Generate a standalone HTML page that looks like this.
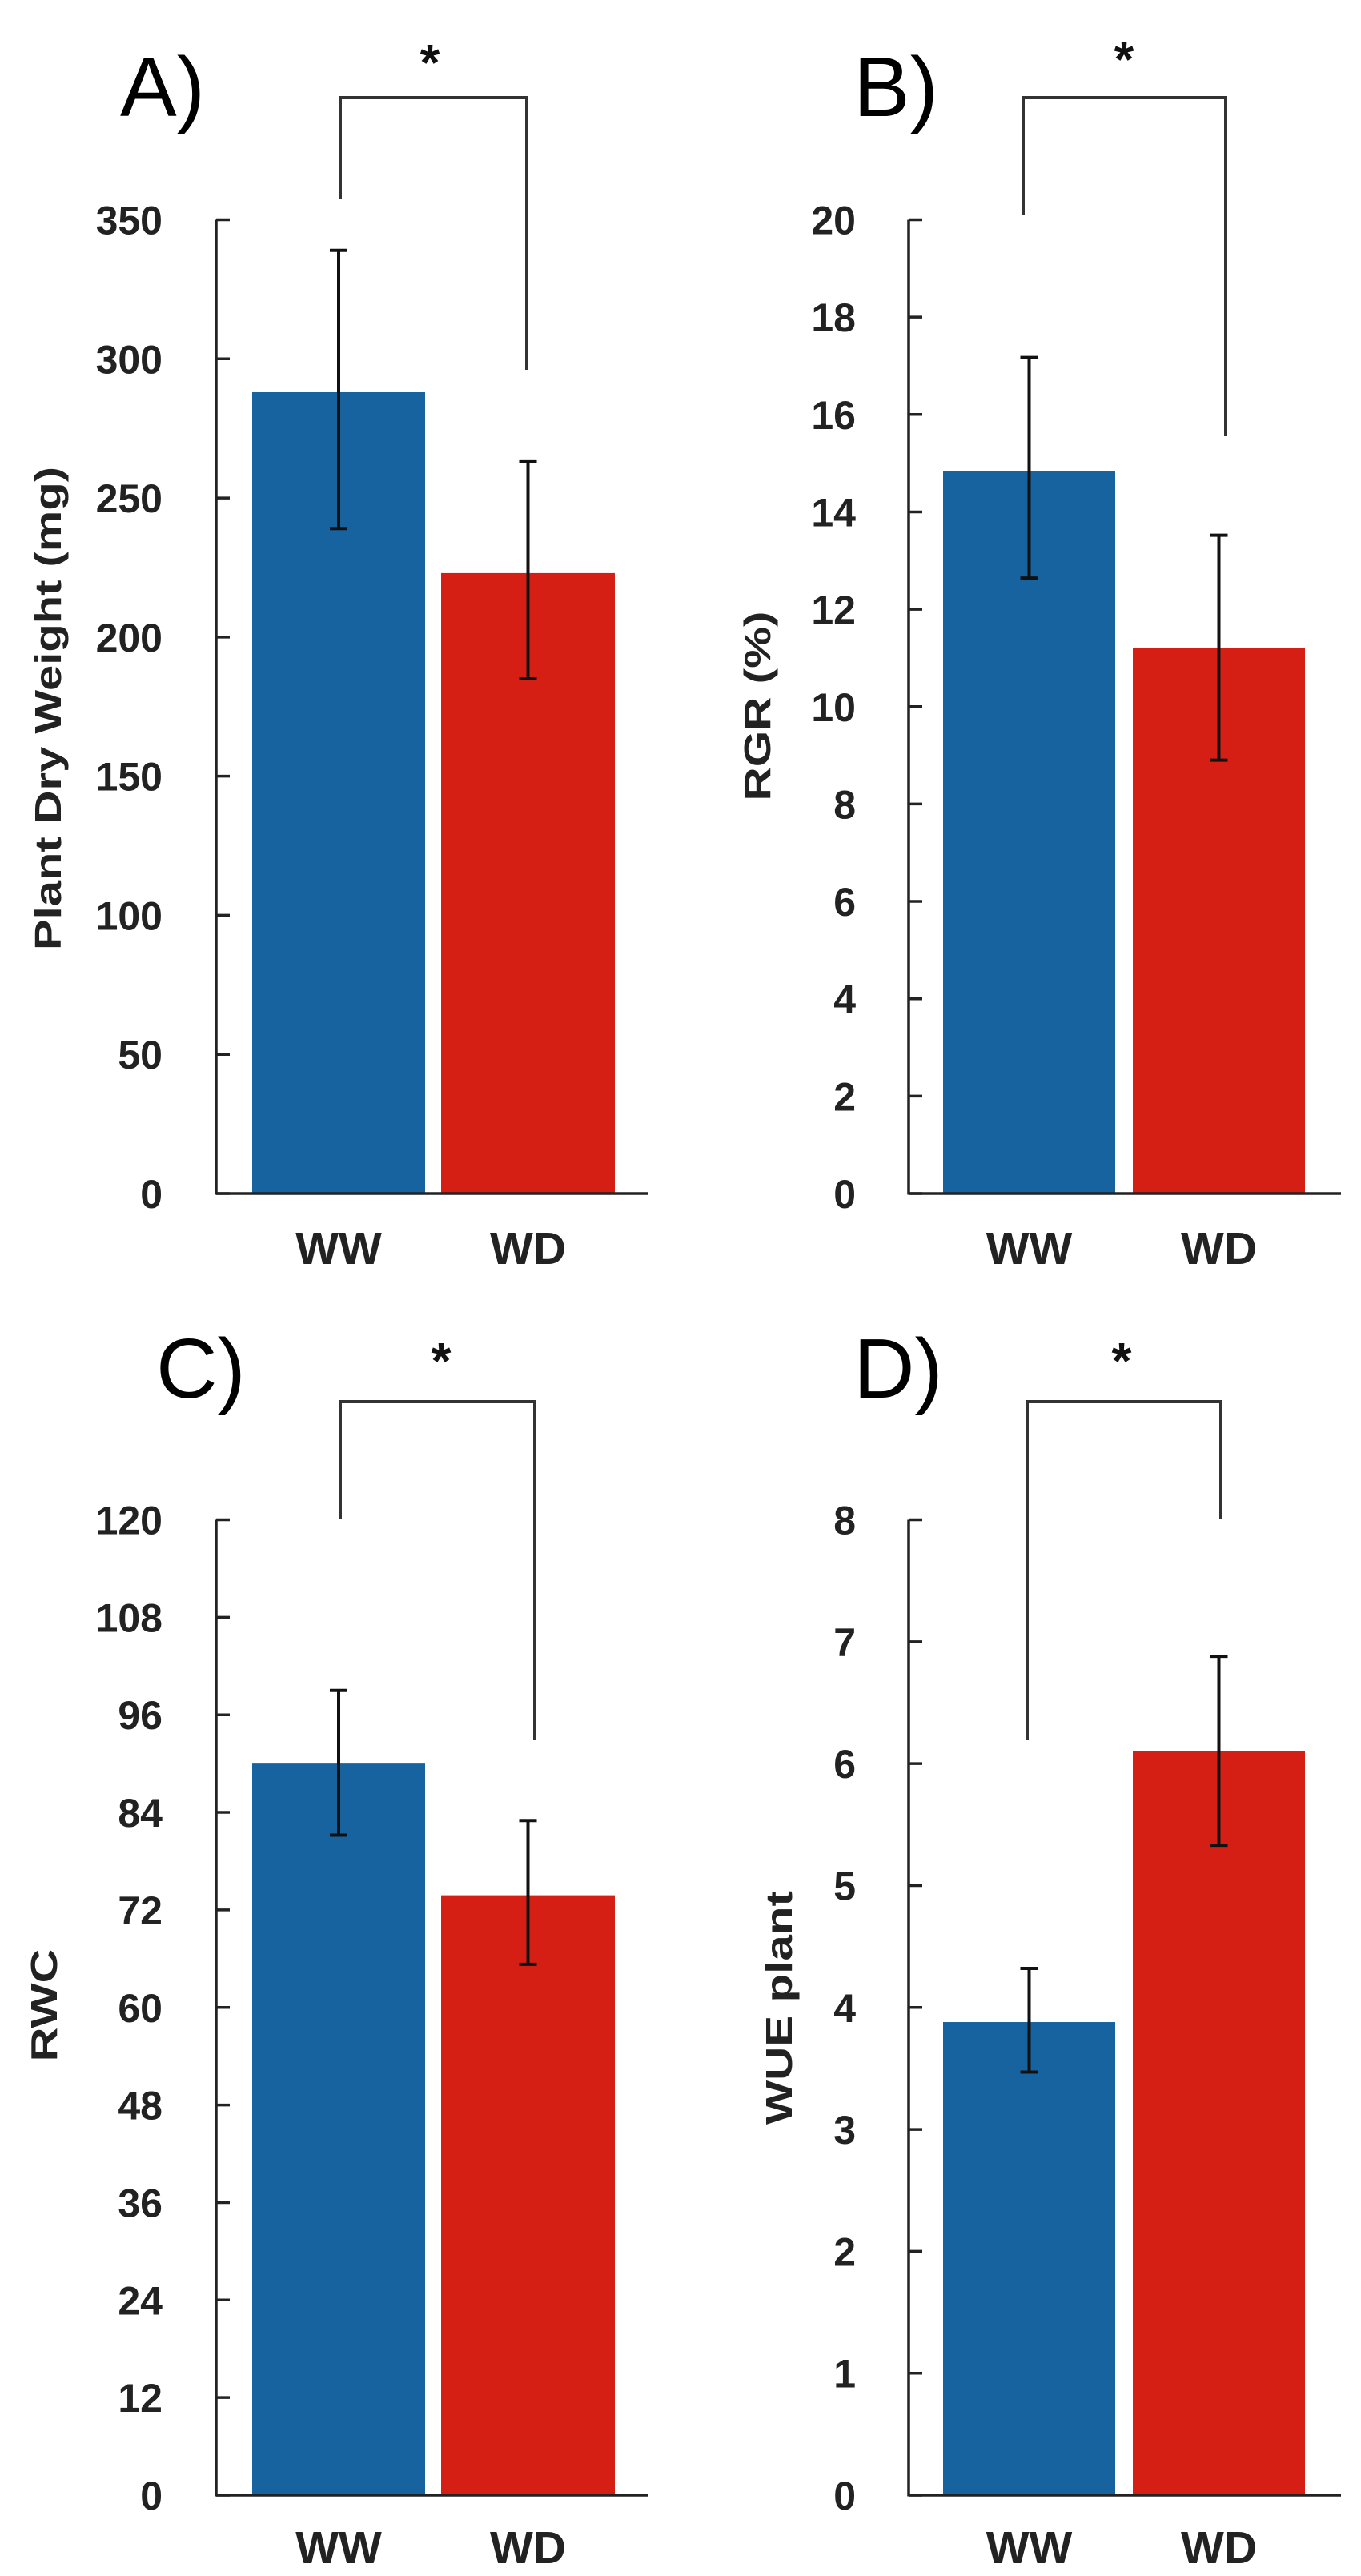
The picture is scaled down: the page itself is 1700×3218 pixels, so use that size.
<!DOCTYPE html>
<html><head><meta charset="utf-8"><style>html,body{margin:0;padding:0;background:#fff}svg{display:block}</style></head>
<body>
<svg id="fig" width="1700" height="3218" viewBox="0 0 1700 3218" xmlns="http://www.w3.org/2000/svg" font-family="'Liberation Sans', sans-serif"></svg>
<script>
const categories = ["WW", "WD"];
const valsA = [288, 223], errHiA = [339, 263], errLoA = [239, 185];
const ticksA = [0, 50, 100, 150, 200, 250, 300, 350];
const valsB = [14.84, 11.2], errHiB = [17.17, 13.52], errLoB = [12.64, 8.9];
const ticksB = [0, 2, 4, 6, 8, 10, 12, 14, 16, 18, 20];
const valsC = [90, 73.8], errHiC = [99, 83], errLoC = [81.2, 65.3];
const ticksC = [0, 12, 24, 36, 48, 60, 72, 84, 96, 108, 120];
const valsD = [3.88, 6.1], errHiD = [4.32, 6.88], errLoD = [3.47, 5.33];
const ticksD = [0, 1, 2, 3, 4, 5, 6, 7, 8];
const labels = ["A)", "B)", "C)", "D)"];
const yTitles = ["Plant Dry Weight (mg)", "RGR (%)", "RWC", "WUE plant"];

const svg = document.getElementById('fig');
const NS = 'http://www.w3.org/2000/svg';
function mk(tag, attrs, parent) {
  const e = document.createElementNS(NS, tag);
  for (const k in attrs) e.setAttribute(k, attrs[k]);
  (parent || svg).appendChild(e);
  return e;
}
const panels = [
  {id:'a', vals:valsA, hi:errHiA, lo:errLoA, ticks:ticksA, ax:270, top:274.5, zero:1491, bars:[[315,531],[551,768]], lblX:195-45, lblY:145, titleX:60, titleY:885, titleLen:604, bl:[425,248], br:[658,462], bt:122, star:[537,100], catY:1579, tlRight:203},
  {id:'b', vals:valsB, hi:errHiB, lo:errLoB, ticks:ticksB, ax:1135, top:274.5, zero:1491, bars:[[1178,1393],[1415,1630]], lblX:1066, lblY:145, titleX:946, titleY:882, titleLen:237, bl:[1278,268], br:[1531,545], bt:122, star:[1404,96], catY:1579, tlRight:1069},
  {id:'c', vals:valsC, hi:errHiC, lo:errLoC, ticks:ticksC, ax:270, top:1898.5, zero:3117, bars:[[315,531],[551,768]], lblX:195, lblY:1746, titleX:55, titleY:2505, titleLen:141, bl:[425,1897.5], br:[668,2174], bt:1751, star:[551,1722], catY:3202, tlRight:203},
  {id:'d', vals:valsD, hi:errHiD, lo:errLoD, ticks:ticksD, ax:1135, top:1898.5, zero:3117, bars:[[1178,1393],[1415,1630]], lblX:1066, lblY:1746, titleX:973, titleY:2508, titleLen:292, bl:[1283,2174], br:[1525,1897.5], bt:1751, star:[1401,1722], catY:3202, tlRight:1069}
];
const colors = ['#1763a0', '#d61f14'];
panels.forEach((p, pi) => {
  const g = mk('g', {});
  
  
  const max = p.ticks[p.ticks.length - 1];
  const y = v => p.zero - (v / max) * (p.zero - p.top);
  // bars
  p.vals.forEach((v, i) => {
    const r = mk('rect', {x:p.bars[i][0], y:y(v), width:p.bars[i][1]-p.bars[i][0], height:p.zero-y(v), fill:colors[i]}, g);
    
    
  });
  // error bars
  p.vals.forEach((v, i) => {
    const cx = (p.bars[i][0] + p.bars[i][1]) / 2;
    const eg = mk('g', {stroke:'#111', 'stroke-width':4}, g);
    
    
    mk('line', {x1:cx, x2:cx, y1:y(p.hi[i]), y2:y(p.lo[i])}, eg);
    mk('line', {x1:cx-11, x2:cx+11, y1:y(p.hi[i]), y2:y(p.hi[i])}, eg);
    mk('line', {x1:cx-11, x2:cx+11, y1:y(p.lo[i]), y2:y(p.lo[i])}, eg);
  });
  // axes
  const axis = mk('g', {stroke:'#222', 'stroke-width':3.5}, g);
  
  
  mk('line', {x1:p.ax, x2:p.ax, y1:p.top, y2:p.zero+1.5}, axis);
  const xa = mk('line', {x1:p.ax, x2:p.ax+540, y1:p.zero, y2:p.zero, stroke:'#222', 'stroke-width':3.5}, g);
  
  
  p.ticks.forEach(t => {
    mk('line', {x1:p.ax, x2:p.ax+17, y1:y(t), y2:y(t)}, axis);
    const tl = mk('text', {x:p.tlRight, y:y(t)+18, 'text-anchor':'end', 'font-size':50, 'font-weight':'bold', fill:'#222'}, g);
    tl.textContent = t;
    
    
  });
  categories.forEach((c, i) => {
    const cx = (p.bars[i][0] + p.bars[i][1]) / 2;
    const ct = mk('text', {x:cx, y:p.catY, 'text-anchor':'middle', 'font-size':57, 'font-weight':'bold', fill:'#222'}, g);
    ct.textContent = c;
    
    
  });
  // y title
  const yt = mk('text', {x:0, y:0, transform:`translate(${p.titleX + 16},${p.titleY}) rotate(-90)`, 'text-anchor':'middle', 'font-size':46, 'font-weight':'bold', fill:'#222', textLength:p.titleLen, lengthAdjust:'spacingAndGlyphs'}, g);
  yt.textContent = yTitles[pi];
  
  
  // panel label
  const pl = mk('text', {x:(pi===0?150:p.lblX), y:p.lblY, 'font-size':106, fill:'#000'}, g);
  pl.textContent = labels[pi];
  
  
  // significance bracket
  const br = mk('polyline', {points:`${p.bl[0]},${p.bl[1]} ${p.bl[0]},${p.bt} ${p.br[0]},${p.bt} ${p.br[0]},${p.br[1]}`, fill:'none', stroke:'#333', 'stroke-width':4}, g);
  
  
  const st = mk('text', {x:p.star[0], y:p.star[1], 'text-anchor':'middle', 'font-size':64, 'font-weight':'bold', fill:'#111'}, g);
  st.textContent = '*';
  
  
});
</script>
</body></html>
